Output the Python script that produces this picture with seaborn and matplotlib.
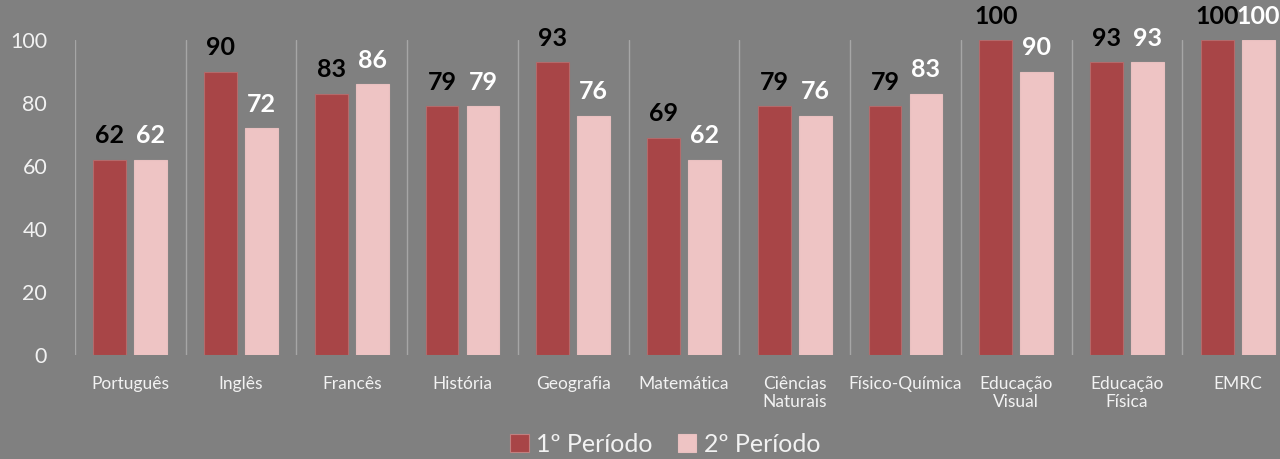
import pandas as pd
import matplotlib.pyplot as plt
import seaborn as sns

# data
disciplinas = ["Português", "Inglês", "Francês", "História", "Geografia", "Matemática",
               "Ciências\nNaturais", "Físico-Química", "Educação\nVisual", "Educação\nFísica", "EMRC"]
periodo_1 = [62, 90, 83, 79, 93, 69, 79, 79, 100, 93, 100]
periodo_2 = [62, 72, 86, 79, 76, 62, 76, 83, 90, 93, 100]
series = ["1º Período", "2º Período"]

BG = "#808080"
RED = "#A84547"
PINK = "#EEC4C4"

df = pd.DataFrame({
    "disciplina": disciplinas * 2,
    "valor": periodo_1 + periodo_2,
    "periodo": [series[0]] * len(disciplinas) + [series[1]] * len(disciplinas),
})

sns.set_theme(style="white")
plt.rcParams["font.family"] = ["Lato", "DejaVu Sans"]

fig = plt.figure(figsize=(12.8, 4.59), dpi=100, facecolor=BG)
ax = fig.add_axes([75 / 1280, 104 / 459, 1218 / 1280, 315 / 459])
ax.set_facecolor(BG)

sns.barplot(data=df, x="disciplina", y="valor", hue="periodo", order=disciplinas,
            hue_order=series, palette=[RED, PINK], width=0.74, gap=0.2,
            linewidth=0.8, saturation=1, ax=ax, legend=True)

# data labels: black for 1st period, white for 2nd
edges = ["#b46a6b", "#e9c0c0"]
for cont, col, ec in zip(ax.containers, ["black", "white"], edges):
    for bar in cont:
        bar.set_edgecolor(ec)
        h = bar.get_height()
        ax.annotate(f"{h:.0f}", (bar.get_x() + bar.get_width() / 2, h),
                    xytext=(0, 9), textcoords="offset points", ha="center", va="bottom",
                    fontsize=18, fontweight="bold", color=col, annotation_clip=False)

# category separators
for i in range(len(disciplinas) + 1):
    ax.axvline(i - 0.5, color="#a6a6a6", linewidth=1, zorder=0)

ax.set_xlim(-0.5, len(disciplinas) - 0.5)
ax.set_ylim(0, 100)
ax.set_yticks(range(0, 101, 20))
ax.tick_params(axis="y", labelsize=15.5, colors="#f2f2f2", length=0, pad=20)
ax.tick_params(axis="x", labelsize=12.5, colors="#f2f2f2", length=0, pad=15)
ax.set_xlabel("")
ax.set_ylabel("")
for s in ax.spines.values():
    s.set_visible(False)

leg = ax.legend(loc="center", bbox_to_anchor=(665 / 1280, 15 / 459), bbox_transform=fig.transFigure,
                ncol=2, frameon=False, fontsize=18, handlelength=0.75, handleheight=0.75,
                handletextpad=0.3, columnspacing=1.0)
for t in leg.get_texts():
    t.set_color("#f2f2f2")
for h, ec in zip(leg.legend_handles, ["#c08080", "#e9c0c0"]):
    h.set_edgecolor(ec)

fig.savefig("out.png", dpi=100, facecolor=BG)
